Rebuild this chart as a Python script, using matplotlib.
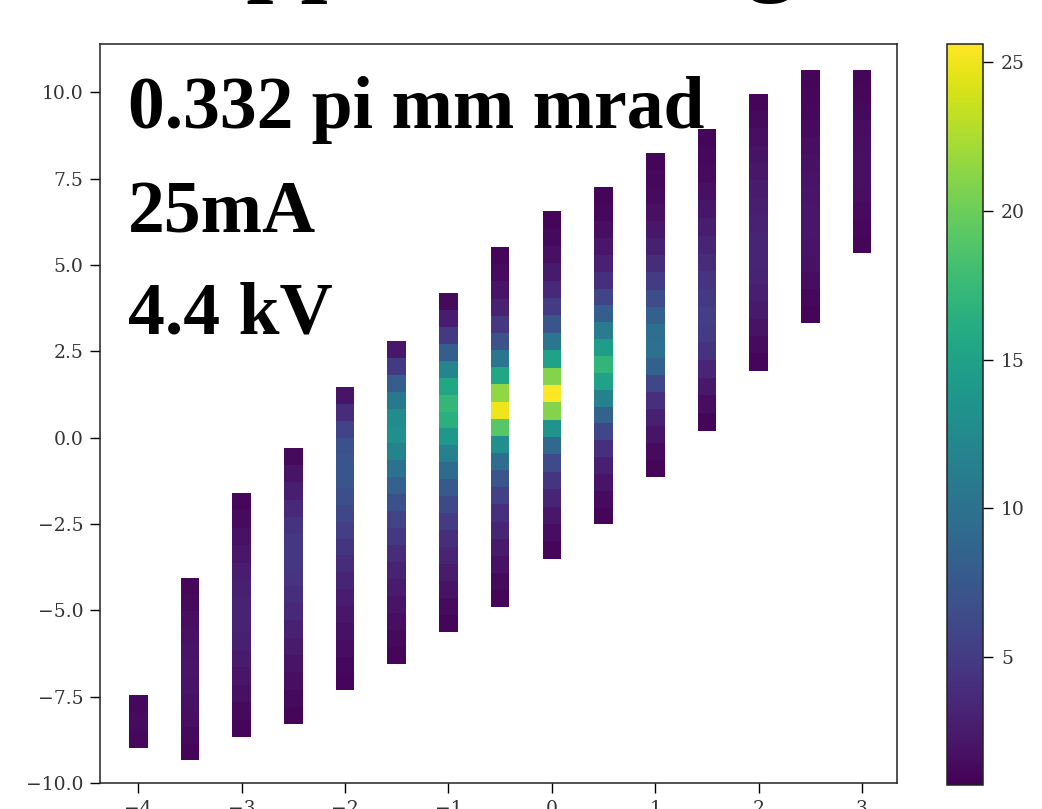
import numpy as np
import matplotlib
matplotlib.use("Agg")
import matplotlib.pyplot as plt
from matplotlib.colors import Normalize

# column positions (x) and vertical extent of each column
col_x = [-4.0, -3.5, -3.0, -2.5, -2.0, -1.5, -1.0, -0.5, 0.0, 0.5, 1.0, 1.5, 2.0, 2.5, 3.0]
col_lo = [-8.99, -9.34, -8.67, -8.29, -7.31, -6.56, -5.61, -4.91, -3.50, -2.51, -1.13, 0.20, 1.94, 3.32, 5.35]
col_hi = [-7.46, -4.05, -1.59, -0.29, 1.47, 2.80, 4.19, 5.52, 6.56, 7.25, 8.24, 8.93, 9.97, 10.66, 10.66]

# intensity in each column, bottom -> top
c01 = [1.2, 1.4, 1.2]
c02 = [1.0, 1.3, 1.6, 1.8, 2.0, 2.1, 2.0, 1.8, 1.6, 1.3, 1.1]
c03 = [1.0, 1.3, 1.7, 2.1, 2.5, 2.9, 3.1, 3.1, 2.9, 2.6, 2.2, 1.8, 1.4, 1.1]
c04 = [1.0, 1.3, 1.6, 2.0, 2.5, 3.0, 3.5, 4.0, 4.4, 4.6, 4.6, 4.3, 3.6, 2.8, 2.0, 1.3]
c05 = [1.0, 1.2, 1.5, 1.8, 2.2, 2.7, 3.2, 3.8, 4.5, 5.2, 6.0, 6.7, 7.2, 7.3, 6.8, 5.6, 3.8, 2.0]
c06 = [1.0, 1.3, 1.6, 2.0, 2.5, 3.1, 3.8, 4.7, 5.7, 6.9, 8.3, 10.0, 11.8, 13.0, 12.6, 10.8, 8.0, 4.8, 2.2]
c07 = [1.0, 1.4, 1.9, 2.5, 3.2, 4.0, 5.0, 6.2, 7.6, 9.3, 11.5, 14.0, 16.5, 17.2, 15.5, 12.0, 8.0, 4.8, 2.6, 1.3]
c08 = [1.0, 1.3, 1.8, 2.4, 3.2, 4.2, 5.5, 7.2, 9.5, 13.0, 19.0, 25.0, 21.5, 15.5, 10.5, 7.0, 4.6, 3.0, 2.0, 1.4, 1.0]
c09 = [1.0, 1.5, 2.2, 3.2, 4.5, 6.3, 9.0, 13.5, 21.0, 25.6, 21.0, 15.0, 10.5, 7.3, 5.0, 3.5, 2.4, 1.7, 1.3, 1.0]
c10 = [1.0, 1.4, 2.0, 2.9, 4.2, 6.0, 8.5, 11.5, 15.0, 17.0, 14.5, 11.0, 8.0, 5.8, 4.2, 3.0, 2.2, 1.6, 1.2, 1.0]
c11 = [1.0, 1.4, 2.0, 2.9, 4.2, 6.0, 8.2, 10.0, 9.6, 8.2, 6.5, 5.0, 3.8, 2.9, 2.2, 1.7, 1.4, 1.2, 1.0]
c12 = [1.0, 1.5, 2.3, 3.3, 4.3, 5.0, 5.2, 4.9, 4.4, 3.8, 3.2, 2.6, 2.1, 1.7, 1.4, 1.2, 1.0]
c13 = [1.0, 1.4, 1.9, 2.4, 2.8, 3.1, 3.2, 3.2, 3.0, 2.8, 2.5, 2.2, 1.9, 1.6, 1.3, 1.0]
c14 = [1.0, 1.2, 1.5, 1.8, 2.0, 2.2, 2.2, 2.1, 2.0, 1.8, 1.6, 1.4, 1.2, 1.1, 1.0]
c15 = [1.0, 1.2, 1.4, 1.6, 1.7, 1.7, 1.6, 1.5, 1.3, 1.1, 1.0]
columns = [c01, c02, c03, c04, c05, c06, c07, c08, c09, c10, c11, c12, c13, c14, c15]

labels = ["0.332 pi mm mrad", "25mA", "4.4 kV"]
title = "Applied Voltage"

bar_w = 0.18
norm = Normalize(vmin=0.7, vmax=25.6)

fig = plt.figure(figsize=(10.42, 8.09), dpi=100)
ax = fig.add_axes([0.096, 0.032, 0.765, 0.913])
cax = fig.add_axes([0.909, 0.030, 0.0345, 0.915])

for x, lo, hi, vals in zip(col_x, col_lo, col_hi, columns):
    xe = [x - bar_w / 2, x + bar_w / 2]
    ye = np.linspace(lo, hi, len(vals) + 1)
    mesh = ax.pcolormesh(xe, ye, np.array(vals).reshape(-1, 1), cmap="viridis", norm=norm)

ax.set_xlim(-4.37, 3.34)
ax.set_ylim(-10.0, 11.39)

ax.tick_params(length=7, width=1, pad=5, labelsize=13.5, labelcolor="#333333")
for lab in ax.get_xticklabels() + ax.get_yticklabels():
    lab.set_family("DejaVu Serif")
for sp in ax.spines.values():
    sp.set_linewidth(1.1)
    sp.set_color("#222222")

cb = fig.colorbar(mesh, cax=cax)
cb.outline.set_linewidth(1.1)
cb.outline.set_edgecolor("#222222")
cax.tick_params(length=7, width=1, pad=6, labelsize=13.5, labelcolor="#333333")
for lab in cax.get_yticklabels():
    lab.set_family("DejaVu Serif")

# annotation block in the upper left
for lab, yy in zip(labels, [0.8863, 0.7456, 0.6089]):
    ax.text(0.035, yy, lab, transform=ax.transAxes, fontsize=53,
            fontweight="bold", family="Liberation Serif", va="baseline", ha="left")

# big title, mostly above the canvas edge
fig.text(0.169, 1.021, title, fontsize=70, fontweight="bold",
         family="Liberation Serif", va="baseline", ha="left")

fig.savefig("out.png", dpi=100)
